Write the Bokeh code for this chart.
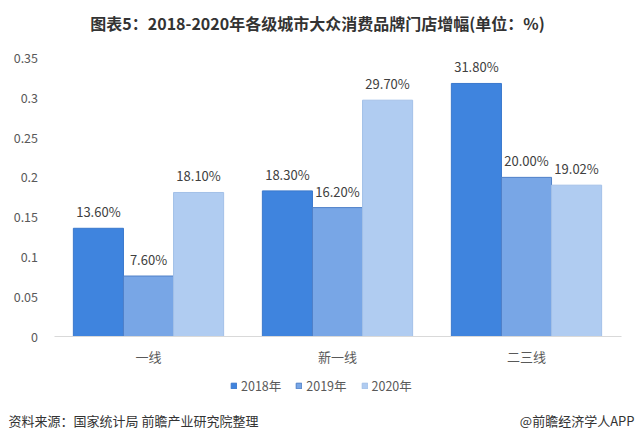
from bokeh.plotting import figure
from bokeh.models import (ColumnDataSource, Range1d, Legend, LegendItem, FixedTicker,
                          CustomJSTickFormatter, LinearAxis, Label)
from bokeh.transform import dodge
from bokeh.core.properties import value
from bokeh.embed import file_html
from bokeh.resources import INLINE

categories = ["一线", "新一线", "二三线"]
years = ["2018年", "2019年", "2020年"]
v2018 = [0.136, 0.183, 0.318]
v2019 = [0.076, 0.162, 0.200]
v2020 = [0.181, 0.297, 0.1902]
y_ticks = [0, 0.05, 0.1, 0.15, 0.2, 0.25, 0.3, 0.35]
title_text = "图表5：2018-2020年各级城市大众消费品牌门店增幅(单位：%)"
source_text = "资料来源：国家统计局 前瞻产业研究院整理"
brand_text = "@前瞻经济学人APP"

FONT = "Noto Sans CJK SC"
colors = ["#3F84DE", "#78A6E6", "#B0CCF1"]
edges = ["#3A78CC", "#4F80C8", "#A3C0E8"]
offsets = [-0.265, 0.0, 0.265]

W, H = 636, 440
n = len(categories)
centers = [i + 0.5 for i in range(n)]

# frame = whole canvas; ranges chosen so the plot area sits where the reference has it
px_x = 189.0            # pixels per category
left_px = 53.5
px_y = 795.7            # pixels per unit of y
zero_px = 336.0         # y pixel of 0 from top
x_start = -left_px / px_x
x_end = x_start + W / px_x
y_end = zero_px / px_y
y_start = -(H - zero_px) / px_y

src = ColumnDataSource(dict(
    x=centers,
    v0=v2018, v1=v2019, v2=v2020,
    t0=[f"{v*100:.2f}%" for v in v2018],
    t1=[f"{v*100:.2f}%" for v in v2019],
    t2=[f"{v*100:.2f}%" for v in v2020],
))

p = figure(width=W, height=H, x_range=Range1d(x_start, x_end),
           y_range=Range1d(y_start, y_end), output_backend="svg", toolbar_location=None,
           x_axis_location=None, y_axis_location=None,
           min_border_left=0, min_border_right=0, min_border_top=0, min_border_bottom=0)
p.title.visible = False
p.outline_line_color = None
p.xgrid.grid_line_color = None
p.ygrid.grid_line_color = None
p.background_fill_color = "white"
p.border_fill_color = "white"

items = []
for i in range(3):
    r = p.vbar(x=dodge("x", offsets[i]), top=f"v{i}", bottom=0, width=0.265,
               source=src, fill_color=colors[i], line_color=edges[i], line_width=1)
    items.append(LegendItem(label=years[i], renderers=[r]))
    p.text(x=dodge("x", offsets[i]), y=f"v{i}", text=f"t{i}", source=src,
           text_align="center", text_baseline="bottom", y_offset=-7,
           text_font=value(FONT), text_font_size="13px", text_color="#404040")

y_axis = LinearAxis(ticker=FixedTicker(ticks=y_ticks), fixed_location=0,
                    formatter=CustomJSTickFormatter(code="return String(Math.round(tick*100)/100);"),
                    axis_line_color=None, major_tick_line_color=None, minor_tick_line_color=None,
                    major_label_text_font=FONT, major_label_text_font_size="12.5px",
                    major_label_text_color="#595959", major_label_standoff=10)
p.add_layout(y_axis, "left")

cat_axis = LinearAxis(ticker=FixedTicker(ticks=centers), fixed_location=0, bounds=(0, n),
                      formatter=CustomJSTickFormatter(args=dict(cats=categories),
                                                      code="return cats[Math.floor(tick)];"),
                      axis_line_color="#D9D9D9", major_tick_line_color=None, minor_tick_line_color=None,
                      major_label_text_font=FONT, major_label_text_font_size="13px",
                      major_label_text_color="#595959", major_label_standoff=4)
p.add_layout(cat_axis, "below")

legend = Legend(items=items, orientation="horizontal", location=(230, 45),
                glyph_width=7, glyph_height=7, label_standoff=4, spacing=14,
                label_text_font=FONT, label_text_font_size="12.5px", label_text_color="#595959",
                border_line_color=None, background_fill_alpha=0, padding=2, margin=0,
                label_height=16)
p.add_layout(legend, "center")

p.add_layout(Label(x=W / 2 - 1, y=H - 22, x_units="screen", y_units="screen", text=title_text,
                   text_font=FONT, text_font_size="16px", text_font_style="bold",
                   text_color="#333333", text_align="center", text_baseline="middle"))
p.add_layout(Label(x=8, y=H - 420, x_units="screen", y_units="screen", text=source_text,
                   text_font=FONT, text_font_size="13px", text_color="#333333",
                   text_align="left", text_baseline="middle"))
p.add_layout(Label(x=634, y=H - 420, x_units="screen", y_units="screen", text=brand_text,
                   text_font=FONT, text_font_size="13px", text_color="#333333",
                   text_align="right", text_baseline="middle"))

open("out.html", "w").write(file_html(p, INLINE))
